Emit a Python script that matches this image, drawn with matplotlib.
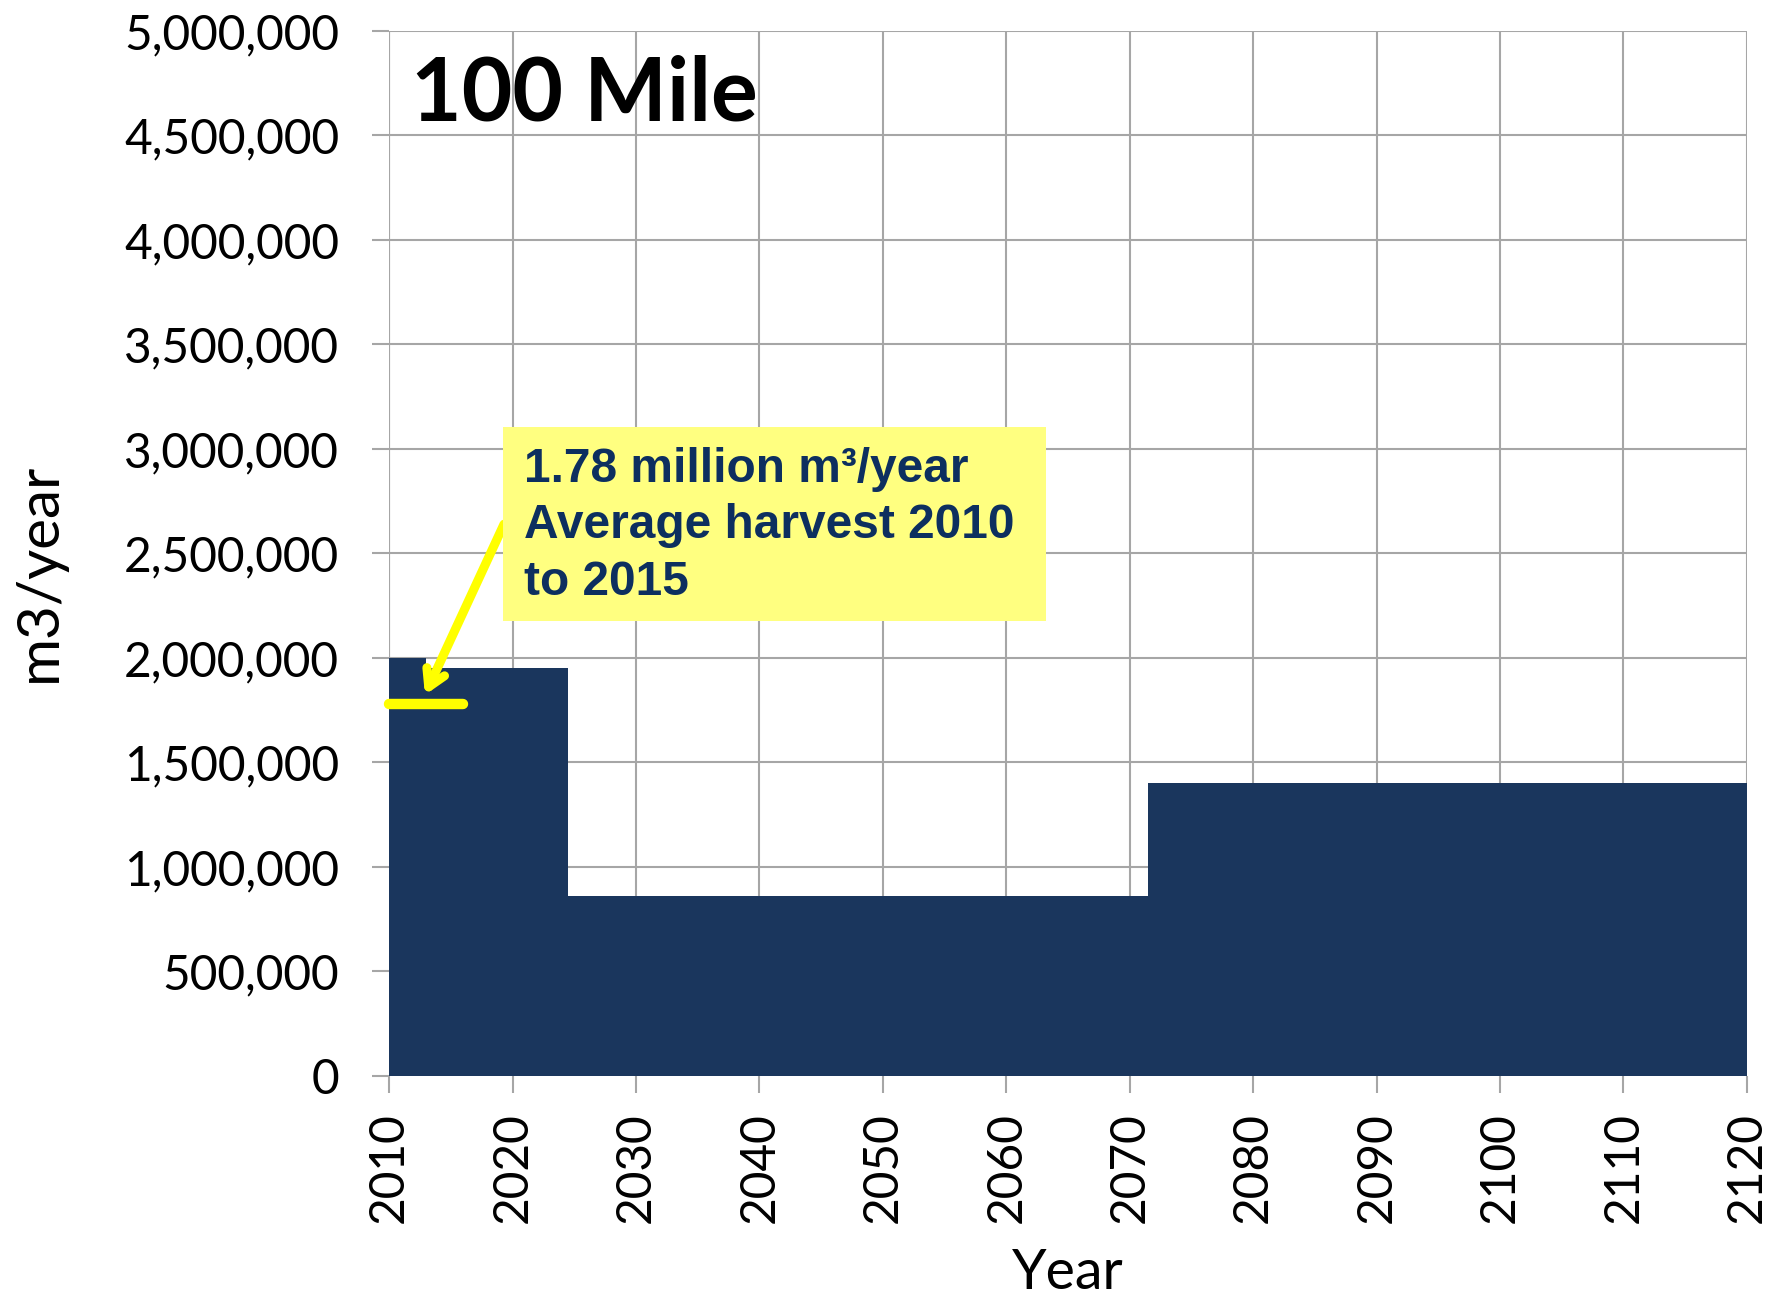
import matplotlib
matplotlib.use("Agg")
import matplotlib.pyplot as plt
from matplotlib.ticker import FuncFormatter, MultipleLocator
from matplotlib.patches import Rectangle

# --------------------------------------------------------------
# Data (harvest levels per period, m3/year)
# --------------------------------------------------------------
period_edges = [2010, 2013, 2024.5, 2071.5, 2120]
harvest = [2000000, 1950000, 860000, 1400000]
avg_harvest = 1780000
avg_years = [2010, 2016]
x_ticks = list(range(2010, 2121, 10))

navy = '#1a365d'
yellow = '#ffff00'
box_yellow = '#ffff80'
text_navy = '#0d2f5f'

plt.rcParams['font.family'] = ['Lato', 'DejaVu Sans']

fig = plt.figure(figsize=(17.77, 12.97), dpi=100)
ax = fig.add_axes([0.219, 0.1704, 0.764, 0.8057])

# step area
ax.fill_between(period_edges, harvest + [harvest[-1]], step='post',
                color=navy, linewidth=0, zorder=2)

ax.set_xlim(2010, 2120)
ax.set_ylim(0, 5000000)
ax.set_xticks(x_ticks)
ax.yaxis.set_major_locator(MultipleLocator(500000))
ax.yaxis.set_major_formatter(FuncFormatter(lambda v, p: f"{int(v):,}"))
ax.grid(True, color='#a6a6a6', linewidth=1.5, zorder=0)
ax.set_axisbelow(True)
for s in ax.spines.values():
    s.set_visible(False)
ax.axhline(0, color='#a6a6a6', linewidth=1.5, zorder=1)
ax.axvline(2010, color='#a6a6a6', linewidth=1.5, zorder=1)

ax.tick_params(axis='both', colors='#a6a6a6', labelcolor='black', width=1.5,
               length=12, labelsize=34.5)
ax.tick_params(axis='y', pad=24)
ax.tick_params(axis='x', pad=14, labelrotation=90)

ax.set_ylabel("m3/year", fontsize=42)
ax.yaxis.set_label_coords(-0.238, 0.482)
ax.set_xlabel("Year", fontsize=40, labelpad=18)

ax.text(0.016, 0.914, "100 Mile", transform=ax.transAxes, fontsize=63,
        fontweight='bold', va='baseline', ha='left')

# average harvest marker
ax.plot(avg_years, [avg_harvest, avg_harvest], color=yellow, linewidth=7.5,
        solid_capstyle='round', zorder=4, clip_on=False)

# annotation box
ax.add_patch(Rectangle((2019.24, 2177000), 43.96, 928000, facecolor=box_yellow,
                       edgecolor='none', zorder=5))
ax.text(2020.9, 3010000, "1.78 million m³/year\nAverage harvest 2010\nto 2015",
        family=['Liberation Sans', 'DejaVu Sans'], fontweight='bold',
        fontsize=34.5, color=text_navy, va='top', ha='left', linespacing=1.33,
        zorder=6)

ax.annotate("", xy=(2012.9, 1823000), xytext=(2019.3, 2640000),
            arrowprops=dict(arrowstyle='->,head_length=1.2,head_width=0.7',
                            color=yellow, linewidth=6.5, capstyle='round',
                            joinstyle='round', shrinkA=0, shrinkB=0),
            zorder=4)

fig.savefig("out.png", dpi=100)
